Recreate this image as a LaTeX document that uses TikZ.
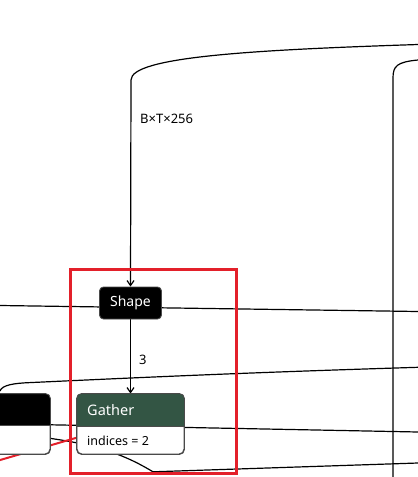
\documentclass[tikz,border=0pt]{standalone}
\usepackage{fontspec}
\setmainfont{Noto Sans}
\usetikzlibrary{arrows.meta,backgrounds}
\definecolor{gathergreen}{HTML}{335544}
\definecolor{nodeborder}{HTML}{4A4A4A}
\definecolor{hlred}{HTML}{E3202A}
\tikzset{
  edge/.style={draw=black, line width=1.2pt},
  arrowedge/.style={edge, -{Straight Barb[length=5pt,width=7pt]}},
  redge/.style={draw=hlred, line width=2pt},
  blackbox/.style={draw=nodeborder, fill=black, rounded corners=4pt, line width=0.9pt, text=white, font=\fontsize{14}{16}\selectfont, inner sep=0pt},
  cardbox/.style={draw=nodeborder, fill=white, rounded corners=5pt, line width=0.9pt, inner sep=0pt},
  cardtitle/.style={text=white, font=\fontsize{14.5}{16}\selectfont, inner sep=0pt, anchor=west},
  cardattr/.style={text=black, font=\fontsize{12.5}{14}\selectfont, inner sep=0pt, anchor=west},
  elabel/.style={font=\fontsize{13}{15}\selectfont, inner sep=0pt},
  highlight/.style={draw=hlred, line width=3pt},
}
\begin{document}
\begin{tikzpicture}[x=1pt,y=-1pt]
\useasboundingbox (0,0) rectangle (418,477);

% nodes
\node[blackbox, minimum width=62pt, minimum height=32pt] (shape) at (130.5,303) {Shape};

\node[cardbox, minimum width=107pt, minimum height=60pt] (gather) at (130.5,424) {};
\fill[gathergreen] ([yshift=-33pt]gather.north west) [rounded corners=5pt] -- (gather.north west) -- (gather.north east) [sharp corners] -- ([yshift=-33pt]gather.north east) -- cycle;
\draw[nodeborder, line width=0.9pt, rounded corners=5pt] (gather.north west) rectangle (gather.south east);
\draw[nodeborder, line width=0.6pt] ([yshift=-33pt]gather.north west) -- ([yshift=-33pt]gather.north east);
\node[cardtitle] (gathertitle) at (87,410) {Gather};
\node[cardattr] (gatherattr) at (87,441) {indices = 2};

\node[cardbox, minimum width=80pt, minimum height=60pt] (left) at (10,424) {};
\fill[black] ([yshift=-32pt]left.north west) [rounded corners=5pt] -- (left.north west) -- (left.north east) [sharp corners] -- ([yshift=-32pt]left.north east) -- cycle;
\draw[nodeborder, line width=0.9pt, rounded corners=5pt] (left.north west) rectangle (left.south east);
\draw[nodeborder, line width=0.6pt] ([yshift=-32pt]left.north west) -- ([yshift=-32pt]left.north east);

% off-canvas ends
\coordinate (topin) at (418,44.5);
\coordinate (rightin) at (418,60);
\coordinate (rightout) at (393,478);
\coordinate (shL) at (0,305.5);
\coordinate (shR) at (418,311.5);
\coordinate (l2a) at (0,391);
\coordinate (l2b) at (418,367.3);
\coordinate (l3b) at (418,432);
\coordinate (l4a) at (30,436);
\coordinate (l4b) at (418,463);
\coordinate (redin) at (-5,461.5);

\begin{scope}[on background layer]
\draw[arrowedge] (topin) .. controls (250,50) and (131,57) .. (131,80) -- (shape.north);
\draw[edge] (rightin) .. controls (397,62) and (393,66) .. (393,78) -- (rightout);
\draw[edge] (shL) -- (shR);
\draw[edge] (l2a) .. controls (2,385) and (14,383.2) .. (30,382.6) .. controls (150,377) and (250,372.5) .. (l2b);
\draw[edge] (left.center) -- (l3b);
\draw[edge] (l4a) .. controls (100,443) and (130,458) .. (153,471.8) -- (l4b);
\draw[redge] (redin) -- (77,437.6);
\draw[arrowedge] (shape.south) -- node[elabel, right=8pt, pos=0.55] {3} (gather.north);
\end{scope}

\node[elabel, anchor=west] (lbl) at (140,119) {B×T×256};

\draw[highlight] (70,269) rectangle (236,473);
\end{tikzpicture}
\end{document}
